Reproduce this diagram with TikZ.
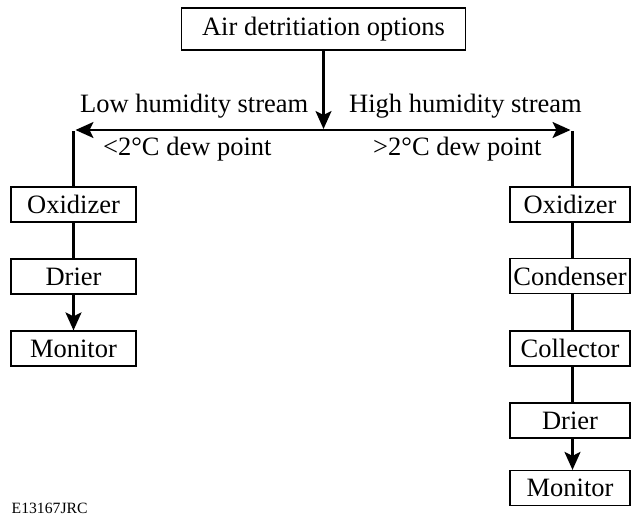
\documentclass[tikz,border=0pt]{standalone}
\usepackage{fontspec}
\setmainfont{Liberation Serif}
\usetikzlibrary{arrows.meta}
\tikzset{
  big/.style={font=\fontsize{26.5}{30}\selectfont},
  box/.style={draw, line width=1.2pt, inner sep=0pt, minimum height=35pt, big},
  lbox/.style={box, minimum width=125pt},
  rbox/.style={box, minimum width=120pt},
  conn/.style={line width=2.3pt},
  tip/.tip={Stealth[length=18pt,width=16pt,inset=4pt]},
  head/.style={-tip},
  lbl/.style={inner sep=0pt, big},
}
\begin{document}
\begin{tikzpicture}[x=1pt,y=-1pt]
\useasboundingbox (0,0) rectangle (631,517);

% root
\node[box, minimum width=284pt, minimum height=42pt] (top) at (323.5,29) {Air detritiation options};

% branch points
\coordinate (M) at (323.5,129);
\coordinate (L) at (73.5,130);
\coordinate (R) at (572.5,130);

% low humidity column
\node[lbox] (lox) at (73.5,204.5) {Oxidizer};
\node[lbox] (ldr) at (73.5,276.5) {Drier};
\node[lbox] (lmo) at (73.5,348.5) {Monitor};

% high humidity column
\node[rbox] (rox) at (570,204.5) {Oxidizer};
\node[rbox] (rcd) at (570,276) {Condenser};
\node[rbox] (rcl) at (570,348.5) {Collector};
\node[rbox] (rdr) at (570,420.5) {Drier};
\node[rbox] (rmo) at (570,488) {Monitor};

% labels along the split
\node[lbl, anchor=base east] (lowlbl) at (308.5,112.5) {Low humidity stream};
\node[lbl, anchor=base west] (highlbl) at (349,112.5) {High humidity stream};
\node[lbl, anchor=base west] (lowdew) at (103,155.5) {\textless 2°C dew point};
\node[lbl, anchor=base west] (highdew) at (373,155.5) {\textgreater 2°C dew point};

\node[inner sep=0pt, anchor=base west, font=\fontsize{15.7}{18}\selectfont] (code) at (11.5,513) {E13167JRC};

% connectors
\draw[conn, head] (top) -- (M);
\draw[conn, tip-tip] ([xshift=2pt]L) -- ([xshift=-2pt]R);
\draw[conn] ([yshift=-1pt]L) -- (lox.north);
\draw[conn] ([yshift=-1pt]R) -- (R |- rox.north);

\draw[conn] (lox) -- (ldr);
\draw[conn, head] (ldr) -- (lmo);

\draw[conn] (rox.south -| R) -- (rcd.north -| R);
\draw[conn] (rcd.south -| R) -- (rcl.north -| R);
\draw[conn] (rcl.south -| R) -- (rdr.north -| R);
\draw[conn, head] (rdr.south -| R) -- (rmo.north -| R);
\end{tikzpicture}
\end{document}
